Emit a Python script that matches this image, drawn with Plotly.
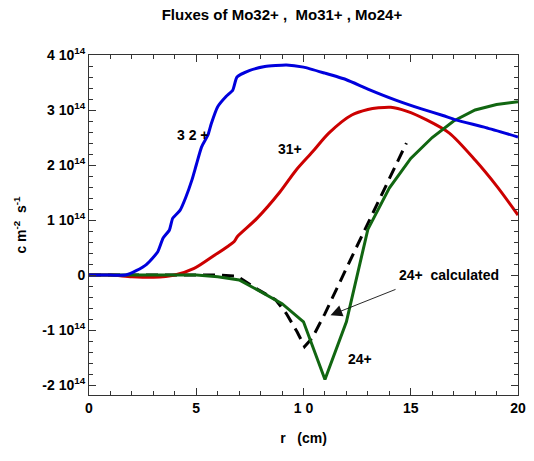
import plotly.graph_objects as go

# r (cm) and fluxes in units of 1e14 cm^-2 s^-1
r_32 = [0, 1, 1.7, 2.2, 2.7, 3.2, 3.45, 3.75, 3.9, 4.25, 4.5, 4.8, 5.0, 5.25, 5.55, 5.7,
        6.0, 6.4, 6.7, 6.9, 7.5, 8.2, 9.2, 10, 11, 12, 13, 14.3, 15.5, 16.5, 17.1, 18.5, 20]
f_32 = [0, 0, 0, 0.08, 0.2, 0.42, 0.67, 0.82, 1.03, 1.18, 1.4, 1.73, 2.0, 2.33, 2.55, 2.75,
        3.06, 3.25, 3.36, 3.6, 3.72, 3.79, 3.82, 3.78, 3.67, 3.55, 3.38, 3.18, 3.02, 2.9, 2.82, 2.68, 2.51]

r_31 = [0, 1, 2, 3, 4, 4.9, 5.85, 6.5, 6.77, 6.92, 7.83, 8.9, 9.66, 10.42, 11.18, 12.25,
        13.0, 13.5, 14.07, 14.8, 15.74, 16.8, 18.0, 19.0, 20]
f_31 = [0, 0, -0.03, -0.04, 0, 0.12, 0.36, 0.53, 0.61, 0.70, 1.03, 1.51, 1.91, 2.24, 2.58, 2.91,
        3.01, 3.04, 3.05, 2.98, 2.82, 2.58, 2.09, 1.62, 1.09]

r_24 = [0, 1, 2, 3, 4, 5, 6, 7, 8, 9, 10, 11, 12, 13, 14, 15, 16, 17, 18, 19, 20]
f_24 = [0, 0, 0, 0, 0, 0, -0.03, -0.09, -0.3, -0.52, -0.85, -1.9, -0.85, 0.83, 1.58, 2.12,
        2.5, 2.8, 3.0, 3.1, 3.15]

r_24c = [0, 2, 4, 6, 6.9, 7.9, 8.7, 9.2, 9.7, 10.05, 10.4, 11, 12.4, 13.5, 14.8]
f_24c = [0, 0, 0, 0, -0.02, -0.27, -0.45, -0.7, -1.03, -1.3, -1.15, -0.7, 0.45, 1.35, 2.4]

y_tickvals = [4, 3, 2, 1, 0, -1, -2]
y_ticktext = ["4 10<sup>14</sup>", "3 10<sup>14</sup>", "2 10<sup>14</sup>", "1 10<sup>14</sup>",
              "0", "-1 10<sup>14</sup>", "-2 10<sup>14</sup>"]
x_tickvals = [0, 5, 10, 15, 20]
x_ticktext = ["0", "5", "1 0", "15", "20"]

FONT = "Liberation Sans, Arial, sans-serif"
X_RANGE = [0, 20]
Y_RANGE = [-2.18, 4]

fig = go.Figure()
fig.add_trace(go.Scatter(x=r_24c, y=f_24c, mode="lines",
                         line=dict(color="black", width=3, dash="12px,7px")))
fig.add_trace(go.Scatter(x=r_31, y=f_31, mode="lines",
                         line=dict(color="#cc0000", width=3, shape="spline", smoothing=0.8)))
fig.add_trace(go.Scatter(x=r_24, y=f_24, mode="lines", line=dict(color="#116611", width=3)))
fig.add_trace(go.Scatter(x=r_32, y=f_32, mode="lines",
                         line=dict(color="#0000dd", width=3, shape="spline", smoothing=0.5)))
# invisible trace to anchor mirrored (top/right) tick axes
fig.add_trace(go.Scatter(x=[None], y=[None], xaxis="x2", yaxis="y2", mode="lines",
                         hoverinfo="skip", showlegend=False))

tickfont = dict(family=FONT, size=14, color="black")
axis_common = dict(showgrid=False, zeroline=False, showline=True, linecolor="#333",
                   linewidth=1, ticks="inside", tickcolor="#333", ticklen=7, tickwidth=1)

fig.update_layout(
    xaxis=dict(range=X_RANGE, tickvals=x_tickvals, ticktext=["<b>%s</b>" % t for t in x_ticktext],
               tickfont=tickfont,
               minor=dict(ticks="inside", dtick=1, ticklen=4, tickcolor="#333", showgrid=False),
               title=dict(text="<b>r   (cm)</b>", font=dict(family=FONT, size=14, color="black"),
                          standoff=18),
               **axis_common),
    yaxis=dict(range=Y_RANGE, tickvals=y_tickvals, ticktext=["<b>%s</b>" % t for t in y_ticktext],
               tickfont=tickfont,
               minor=dict(ticks="inside", dtick=0.2, tick0=0, ticklen=4, tickcolor="#333", showgrid=False),
               title=dict(text="<b>c m<sup>-2</sup>  s<sup>-1</sup></b>",
                          font=dict(family=FONT, size=14, color="black"), standoff=12),
               **axis_common),
    xaxis2=dict(range=X_RANGE, overlaying="x", side="top", anchor="y2", showticklabels=False,
                tickvals=x_tickvals,
                minor=dict(ticks="inside", dtick=1, ticklen=4, tickcolor="#333", showgrid=False),
                **axis_common),
    yaxis2=dict(range=Y_RANGE, overlaying="y", side="right", anchor="x2", showticklabels=False,
                tickvals=y_tickvals,
                minor=dict(ticks="inside", dtick=0.2, tick0=0, ticklen=4, tickcolor="#333", showgrid=False),
                **axis_common),
)

ann_font = dict(family=FONT, size=14, color="black")
fig.add_annotation(x=4.86, y=2.55, text="<b>3 2 +</b>", showarrow=False, font=ann_font)
fig.add_annotation(x=9.38, y=2.29, text="<b>31+</b>", showarrow=False, font=ann_font)
fig.add_annotation(x=16.8, y=0.0, text="<b>24+  calculated</b>", showarrow=False, font=ann_font)
fig.add_annotation(x=12.62, y=-1.53, text="<b>24+</b>", showarrow=False, font=ann_font)
# pointer arrow
fig.add_annotation(x=11.26, y=-0.73, ax=14.36, ay=-0.25, axref="x", ayref="y",
                   showarrow=True, arrowhead=2, arrowsize=2.6, arrowwidth=0.9,
                   arrowcolor="#111", text="")

fig.update_layout(
    width=534, height=461,
    margin=dict(l=89, r=8, t=55, b=66),
    paper_bgcolor="white", plot_bgcolor="white",
    showlegend=False,
    title=dict(text="<b>Fluxes of Mo32+ ,  Mo31+ , Mo24+</b>", x=0.528, xanchor="center",
               y=0.967, yanchor="middle", yref="container",
               font=dict(family=FONT, size=15, color="black")),
)

fig.write_html("out.html")
